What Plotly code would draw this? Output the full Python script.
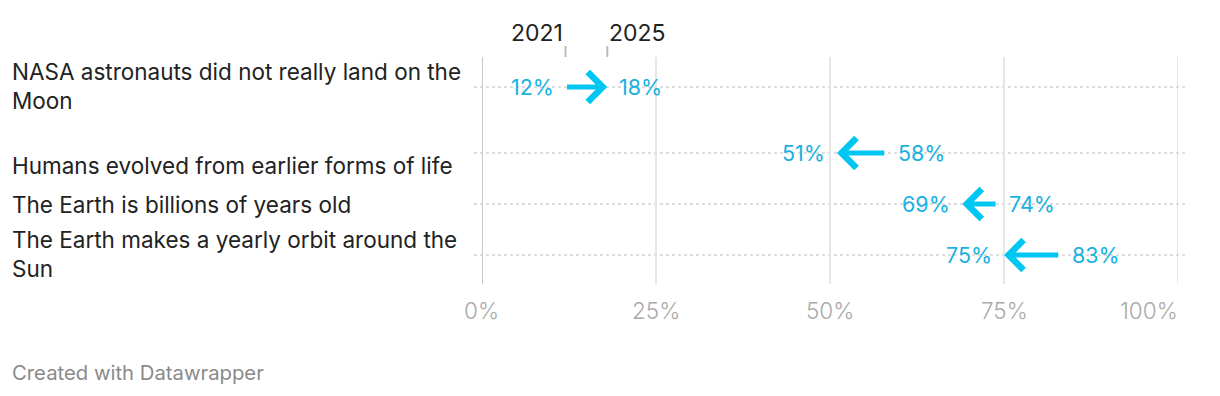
import plotly.graph_objects as go

# ---- data ----
categories = [
    "NASA astronauts did not really land on the<br>Moon",
    "Humans evolved from earlier forms of life",
    "The Earth is billions of years old",
    "The Earth makes a yearly orbit around the<br>Sun",
]
v2021 = [12, 58, 74, 83]
v2025 = [18, 51, 69, 75]
x_ticks = [0, 25, 50, 75, 100]
x_tick_labels = ["0%", "25%", "50%", "75%", "100%"]
series_names = ["2021", "2025"]

# ---- layout constants (pixel space on y) ----
W, H = 1220, 396
row_y = [87, 153, 204, 255]
label_y = [86, 165, 204, 254]
ARROW = "#00c6f2"
TEXT_CYAN = "#17b2e2"
FONT = "Inter"

fig = go.Figure()
# invisible trace to set up axes
fig.add_trace(go.Scatter(x=[0, 100], y=[0, 0], mode="markers",
                         marker=dict(opacity=0), hoverinfo="skip", showlegend=False))

shapes = []
annotations = []

# vertical gridlines + tick labels
for t, lab in zip(x_ticks, x_tick_labels):
    shapes.append(dict(type="line", xref="x", yref="y", x0=t, x1=t, y0=57, y1=284,
                       line=dict(color="#c8c8c8" if t == 0 else "#e6e6e6", width=2),
                       layer="below"))
    last = t == x_ticks[-1]
    annotations.append(dict(x=t, y=310, xref="x", yref="y", text=lab,
                            showarrow=False, xanchor="right" if last else "center",
                            yanchor="middle", xshift=2 if last else 0,
                            font=dict(family=FONT, size=22.5, color="#aaaaaa", weight=300)))

# dotted row lines
for yv in row_y:
    shapes.append(dict(type="line", xref="paper", yref="y", x0=474 / W, x1=1186 / W, y0=yv, y1=yv,
                       line=dict(color="#d2d2d2", width=1.5, dash="dot"), layer="below"))

# header ticks for series names
shapes.append(dict(type="line", xref="x", yref="y", x0=v2021[0], x1=v2021[0], y0=46, y1=57,
                   line=dict(color="#bbbbbb", width=2)))
shapes.append(dict(type="line", xref="x", yref="y", x0=v2025[0], x1=v2025[0], y0=46, y1=57,
                   line=dict(color="#bbbbbb", width=2)))
annotations.append(dict(x=v2021[0], y=33, xref="x", yref="y", text=series_names[0], showarrow=False,
                        xanchor="right", yanchor="middle", xshift=-1,
                        font=dict(family=FONT, size=23, color="#222222")))
annotations.append(dict(x=v2025[0], y=33, xref="x", yref="y", text=series_names[1], showarrow=False,
                        xanchor="left", yanchor="middle", xshift=0,
                        font=dict(family=FONT, size=23, color="#222222")))

# category labels
for cat, ly in zip(categories, label_y):
    annotations.append(dict(x=10 / W, y=ly, xref="paper", yref="y", text=cat, showarrow=False,
                            xanchor="left", yanchor="middle", align="left",
                            font=dict(family=FONT, size=22.5, color="#222222")))

# arrows and value labels
for a, b, yv in zip(v2021, v2025, row_y):
    annotations.append(dict(x=b, y=yv, ax=a, ay=yv, xref="x", yref="y", axref="x", ayref="y",
                            text="", showarrow=True, arrowhead=4, arrowsize=1.15, arrowwidth=5,
                            arrowcolor=ARROW, standoff=0, startstandoff=0))
    up = b > a
    annotations.append(dict(x=a, y=yv, xref="x", yref="y", text=f"{a}%", showarrow=False,
                            xanchor="right" if up else "left", yanchor="middle",
                            xshift=-10 if up else 10,
                            font=dict(family=FONT, size=21.5, color=TEXT_CYAN)))
    annotations.append(dict(x=b, y=yv, xref="x", yref="y", text=f"{b}%", showarrow=False,
                            xanchor="left" if up else "right", yanchor="middle",
                            xshift=10 if up else -10,
                            font=dict(family=FONT, size=21.5, color=TEXT_CYAN)))

# footer
annotations.append(dict(x=10 / W, y=372, xref="paper", yref="y", text="Created with Datawrapper",
                        showarrow=False, xanchor="left", yanchor="middle",
                        font=dict(family=FONT, size=20.3, color="#8a8a8a")))

fig.update_layout(
    width=W, height=H,
    margin=dict(l=0, r=0, t=0, b=0),
    paper_bgcolor="white", plot_bgcolor="white",
    xaxis=dict(range=[0, 100], domain=[482 / W, 1178 / W], visible=False, fixedrange=True),
    yaxis=dict(range=[H, 0], domain=[0, 1], visible=False, fixedrange=True),
    shapes=shapes, annotations=annotations, showlegend=False,
)

fig.write_html("out.html")
